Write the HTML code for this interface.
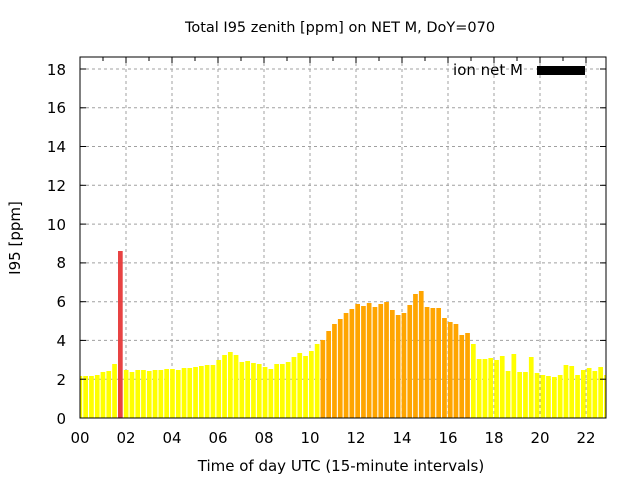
<!DOCTYPE html>
<html><head><meta charset="utf-8"><style>body{margin:0;background:#fff}svg{display:block}text{font-family:"DejaVu Sans","Liberation Sans",sans-serif;fill:#000}</style></head><body>
<svg width="640" height="480" viewBox="0 0 640 480" xmlns="http://www.w3.org/2000/svg">
<defs><clipPath id="c"><rect x="80" y="57" width="526" height="361"/></clipPath></defs>
<g stroke="#a0a0a0" stroke-width="1" stroke-dasharray="3,3">
<line x1="80" y1="379.2" x2="606" y2="379.2"/><line x1="80" y1="340.4" x2="606" y2="340.4"/><line x1="80" y1="301.7" x2="606" y2="301.7"/><line x1="80" y1="262.9" x2="606" y2="262.9"/><line x1="80" y1="224.1" x2="606" y2="224.1"/><line x1="80" y1="185.3" x2="606" y2="185.3"/><line x1="80" y1="146.5" x2="606" y2="146.5"/><line x1="80" y1="107.8" x2="606" y2="107.8"/><line x1="80" y1="69" x2="606" y2="69"/>
<line x1="126" y1="57" x2="126" y2="418"/><line x1="172" y1="57" x2="172" y2="418"/><line x1="218" y1="57" x2="218" y2="418"/><line x1="264" y1="57" x2="264" y2="418"/><line x1="310" y1="57" x2="310" y2="418"/><line x1="356" y1="57" x2="356" y2="418"/><line x1="402" y1="57" x2="402" y2="418"/><line x1="448" y1="57" x2="448" y2="418"/><line x1="494" y1="57" x2="494" y2="418"/><line x1="540" y1="57" x2="540" y2="418"/><line x1="586" y1="57" x2="586" y2="418"/>
</g>
<g clip-path="url(#c)" fill="#ffff00">
<rect x="77.5" y="376" width="4.7" height="42"/><rect x="83.3" y="376" width="4.7" height="42"/><rect x="89.1" y="376" width="4.7" height="42"/><rect x="94.9" y="375" width="4.7" height="43"/><rect x="100.6" y="372" width="4.7" height="46"/><rect x="106.4" y="371" width="4.7" height="47"/><rect x="112.2" y="364" width="4.7" height="54"/>
<rect x="118.0" y="251" width="4.7" height="167" fill="#e84343"/>
<rect x="123.8" y="370" width="4.7" height="48"/><rect x="129.6" y="372" width="4.7" height="46"/><rect x="135.4" y="370" width="4.7" height="48"/><rect x="141.1" y="370" width="4.7" height="48"/><rect x="146.9" y="371" width="4.7" height="47"/><rect x="152.7" y="370" width="4.7" height="48"/><rect x="158.5" y="370" width="4.7" height="48"/><rect x="164.3" y="369" width="4.7" height="49"/><rect x="170.1" y="369" width="4.7" height="49"/><rect x="175.9" y="370" width="4.7" height="48"/><rect x="181.7" y="368" width="4.7" height="50"/><rect x="187.4" y="368" width="4.7" height="50"/><rect x="193.2" y="367" width="4.7" height="51"/><rect x="199.0" y="366" width="4.7" height="52"/><rect x="204.8" y="365" width="4.7" height="53"/><rect x="210.6" y="365" width="4.7" height="53"/><rect x="216.4" y="360" width="4.7" height="58"/><rect x="222.2" y="355" width="4.7" height="63"/><rect x="228.0" y="352" width="4.7" height="66"/><rect x="233.7" y="355" width="4.7" height="63"/><rect x="239.5" y="362" width="4.7" height="56"/><rect x="245.3" y="361" width="4.7" height="57"/><rect x="251.1" y="363" width="4.7" height="55"/><rect x="256.9" y="364" width="4.7" height="54"/><rect x="262.7" y="367" width="4.7" height="51"/><rect x="268.5" y="369" width="4.7" height="49"/><rect x="274.3" y="364" width="4.7" height="54"/><rect x="280.0" y="364" width="4.7" height="54"/><rect x="285.8" y="362" width="4.7" height="56"/><rect x="291.6" y="357" width="4.7" height="61"/><rect x="297.4" y="353" width="4.7" height="65"/><rect x="303.2" y="356" width="4.7" height="62"/><rect x="309.0" y="351" width="4.7" height="67"/><rect x="314.8" y="344" width="4.7" height="74"/>
<g fill="#ffa500">
<rect x="320.5" y="340" width="4.7" height="78"/><rect x="326.3" y="331" width="4.7" height="87"/><rect x="332.1" y="324" width="4.7" height="94"/><rect x="337.9" y="319" width="4.7" height="99"/><rect x="343.7" y="313" width="4.7" height="105"/><rect x="349.5" y="309" width="4.7" height="109"/><rect x="355.3" y="304" width="4.7" height="114"/><rect x="361.1" y="306" width="4.7" height="112"/><rect x="366.8" y="303" width="4.7" height="115"/><rect x="372.6" y="307" width="4.7" height="111"/><rect x="378.4" y="304" width="4.7" height="114"/><rect x="384.2" y="302" width="4.7" height="116"/><rect x="390.0" y="310" width="4.7" height="108"/><rect x="395.8" y="315" width="4.7" height="103"/><rect x="401.6" y="313" width="4.7" height="105"/><rect x="407.4" y="305" width="4.7" height="113"/><rect x="413.1" y="294" width="4.7" height="124"/><rect x="418.9" y="291" width="4.7" height="127"/><rect x="424.7" y="307" width="4.7" height="111"/><rect x="430.5" y="308" width="4.7" height="110"/><rect x="436.3" y="308" width="4.7" height="110"/><rect x="442.1" y="318" width="4.7" height="100"/><rect x="447.9" y="322" width="4.7" height="96"/><rect x="453.6" y="324" width="4.7" height="94"/><rect x="459.4" y="335" width="4.7" height="83"/><rect x="465.2" y="333" width="4.7" height="85"/>
</g>
<rect x="471.0" y="344" width="4.7" height="74"/><rect x="476.8" y="359" width="4.7" height="59"/><rect x="482.6" y="359" width="4.7" height="59"/><rect x="488.4" y="358" width="4.7" height="60"/><rect x="494.2" y="360" width="4.7" height="58"/><rect x="499.9" y="356" width="4.7" height="62"/><rect x="505.7" y="371" width="4.7" height="47"/><rect x="511.5" y="354" width="4.7" height="64"/><rect x="517.3" y="372" width="4.7" height="46"/><rect x="523.1" y="372" width="4.7" height="46"/><rect x="528.9" y="357" width="4.7" height="61"/><rect x="534.7" y="373" width="4.7" height="45"/><rect x="540.5" y="375" width="4.7" height="43"/><rect x="546.1" y="376" width="4.7" height="42"/><rect x="552.0" y="377" width="4.7" height="41"/><rect x="557.8" y="375" width="4.7" height="43"/><rect x="563.6" y="365" width="4.7" height="53"/><rect x="569.4" y="366" width="4.7" height="52"/><rect x="575.2" y="375" width="4.7" height="43"/><rect x="581.0" y="370" width="4.7" height="48"/><rect x="586.8" y="368" width="4.7" height="50"/><rect x="592.5" y="371" width="4.7" height="47"/><rect x="598.3" y="367" width="4.7" height="51"/><rect x="604.1" y="375" width="4.7" height="43"/>
</g>
<rect x="80" y="57" width="526" height="361" fill="none" stroke="#000" stroke-width="1"/>
<g stroke="#000">
<line x1="80" y1="379.2" x2="86" y2="379.2"/><line x1="80" y1="340.4" x2="86" y2="340.4"/><line x1="80" y1="301.7" x2="86" y2="301.7"/><line x1="80" y1="262.9" x2="86" y2="262.9"/><line x1="80" y1="224.1" x2="86" y2="224.1"/><line x1="80" y1="185.3" x2="86" y2="185.3"/><line x1="80" y1="146.5" x2="86" y2="146.5"/><line x1="80" y1="107.8" x2="86" y2="107.8"/><line x1="80" y1="69" x2="86" y2="69"/>
<line x1="600" y1="379.2" x2="606" y2="379.2"/><line x1="600" y1="340.4" x2="606" y2="340.4"/><line x1="600" y1="301.7" x2="606" y2="301.7"/><line x1="600" y1="262.9" x2="606" y2="262.9"/><line x1="600" y1="224.1" x2="606" y2="224.1"/><line x1="600" y1="185.3" x2="606" y2="185.3"/><line x1="600" y1="146.5" x2="606" y2="146.5"/><line x1="600" y1="107.8" x2="606" y2="107.8"/><line x1="600" y1="69" x2="606" y2="69"/>
<line x1="103" y1="57" x2="103" y2="61"/><line x1="126" y1="57" x2="126" y2="63"/><line x1="149" y1="57" x2="149" y2="61"/><line x1="172" y1="57" x2="172" y2="63"/><line x1="195" y1="57" x2="195" y2="61"/><line x1="218" y1="57" x2="218" y2="63"/><line x1="241" y1="57" x2="241" y2="61"/><line x1="264" y1="57" x2="264" y2="63"/><line x1="287" y1="57" x2="287" y2="61"/><line x1="310" y1="57" x2="310" y2="63"/><line x1="333" y1="57" x2="333" y2="61"/><line x1="356" y1="57" x2="356" y2="63"/><line x1="379" y1="57" x2="379" y2="61"/><line x1="402" y1="57" x2="402" y2="63"/><line x1="425" y1="57" x2="425" y2="61"/><line x1="448" y1="57" x2="448" y2="63"/><line x1="471" y1="57" x2="471" y2="61"/><line x1="494" y1="57" x2="494" y2="63"/><line x1="517" y1="57" x2="517" y2="61"/><line x1="540" y1="57" x2="540" y2="63"/><line x1="563" y1="57" x2="563" y2="61"/><line x1="586" y1="57" x2="586" y2="63"/>
</g>
<g font-size="15" text-anchor="end">
<text x="66" y="424">0</text><text x="66" y="385">2</text><text x="66" y="346">4</text><text x="66" y="307">6</text><text x="66" y="268">8</text><text x="66" y="230">10</text><text x="66" y="191">12</text><text x="66" y="152">14</text><text x="66" y="113">16</text><text x="66" y="75">18</text>
</g>
<g font-size="15" text-anchor="middle">
<text x="80" y="443">00</text><text x="126" y="443">02</text><text x="172" y="443">04</text><text x="218" y="443">06</text><text x="264" y="443">08</text><text x="310" y="443">10</text><text x="356" y="443">12</text><text x="402" y="443">14</text><text x="448" y="443">16</text><text x="494" y="443">18</text><text x="540" y="443">20</text><text x="586" y="443">22</text>
<text x="340" y="32" font-size="14.5">Total I95 zenith [ppm] on NET M, DoY=070</text>
<text x="341" y="471" font-size="15">Time of day UTC (15-minute intervals)</text>
<text transform="translate(20,238) rotate(-90)" font-size="15">I95 [ppm]</text>
</g>
<text x="523" y="75" font-size="15" text-anchor="end">ion net M</text>
<rect x="537" y="66" width="48" height="9" fill="#000"/>
</svg>
</body></html>
